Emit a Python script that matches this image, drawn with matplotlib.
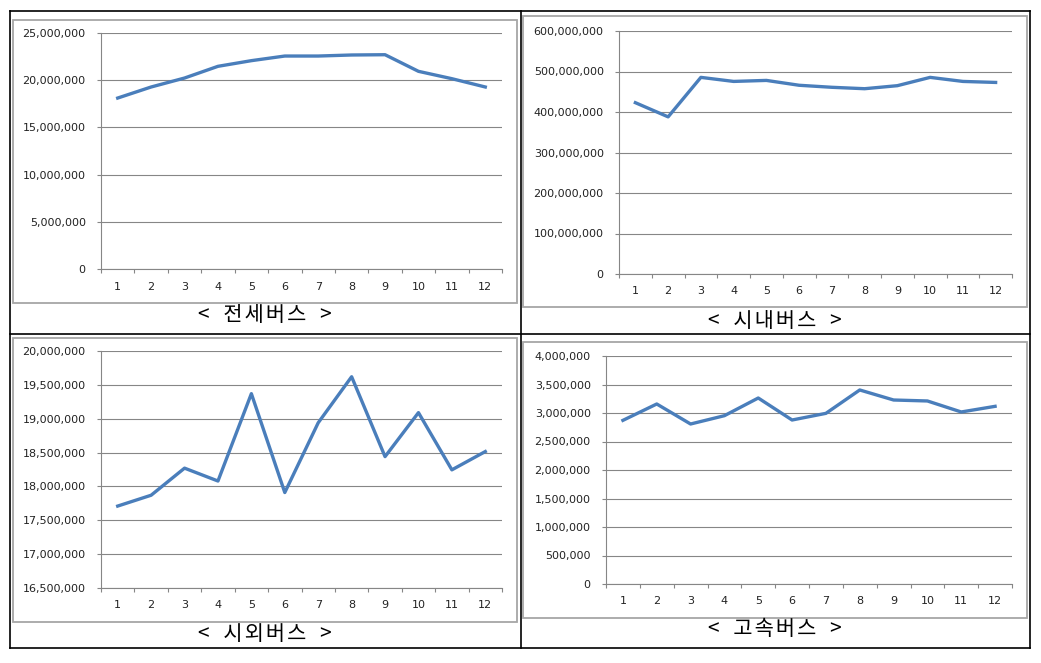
import numpy as np
import matplotlib
matplotlib.use("Agg")
import matplotlib.pyplot as plt
from matplotlib.lines import Line2D
from matplotlib.patches import Rectangle
from matplotlib.ticker import FuncFormatter

# -----------------------------
# Data (monthly passengers)
# -----------------------------
months = list(range(1, 13))

charter_bus = [18.11e6, 19.28e6, 20.23e6, 21.47e6, 22.07e6, 22.56e6,
               22.56e6, 22.67e6, 22.70e6, 20.94e6, 20.16e6, 19.28e6]
city_bus = [423e6, 388e6, 485.5e6, 475.5e6, 478e6, 466e6,
            461e6, 457.5e6, 465e6, 485.5e6, 475.5e6, 473e6]
intercity_bus = [17.71e6, 17.87e6, 18.27e6, 18.08e6, 19.37e6, 17.91e6,
                 18.94e6, 19.62e6, 18.44e6, 19.09e6, 18.245e6, 18.515e6]
express_bus = [2.871e6, 3.158e6, 2.807e6, 2.953e6, 3.263e6, 2.877e6,
               2.994e6, 3.404e6, 3.228e6, 3.211e6, 3.018e6, 3.117e6]

names = ["전세버스", "시내버스", "시외버스", "고속버스"]
y_ranges = [(0, 25e6, 5e6), (0, 600e6, 100e6), (16.5e6, 20e6, 0.5e6), (0, 4e6, 0.5e6)]

W, H = 1041, 663
fig = plt.figure(figsize=(W / 100, H / 100), dpi=100)
fig.patch.set_facecolor("white")


def fbox(x0, y0, x1, y1):
    # pixel box (top-left origin) -> figure fraction [l, b, w, h]
    return [x0 / W, 1 - y1 / H, (x1 - x0) / W, (y1 - y0) / H]


def caption(name):
    # slight letter spacing like the original document
    hair = "\u200a"
    return "<   " + hair.join(name) + "   >"


# -----------------------------
# Layout in pixels
# -----------------------------
plot_boxes = [(101, 33, 502, 269), (619, 31, 1012, 274),
              (101, 351, 502, 588), (606, 356, 1012, 584)]
frame_boxes = [(13, 20, 517, 303), (523, 16, 1027, 307),
               (13, 338, 517, 622), (523, 342, 1027, 618)]
caption_pos = [(265, 315), (775, 321), (265, 634), (775, 629)]

series = [charter_bus, city_bus, intercity_bus, express_bus]
grid_col = "#868686"
line_col = "#4A7EBB"

for i, vals in enumerate(series):
    # chart frame
    l, b, w, h = fbox(*frame_boxes[i])
    fig.patches.append(Rectangle((l, b), w, h, transform=fig.transFigure,
                                 fill=False, edgecolor="#a6a6a6", linewidth=1.3))

    ax = fig.add_axes(fbox(*plot_boxes[i]))
    ax.plot(months, vals, color=line_col, linewidth=2.4, solid_joinstyle="round")

    lo, hi, step = y_ranges[i]
    ax.set_ylim(lo, hi)
    ax.set_yticks(np.arange(lo, hi + step / 2, step))
    ax.yaxis.set_major_formatter(FuncFormatter(lambda v, p: f"{int(round(v)):,}"))
    ax.grid(axis="y", color=grid_col, linewidth=0.8)
    ax.set_axisbelow(True)

    ax.set_xlim(0.5, 12.5)
    ax.set_xticks(np.arange(0.5, 13, 1))
    ax.set_xticklabels([])
    ax.set_xticks(months, minor=True)
    ax.set_xticklabels([str(m) for m in months], minor=True)

    for s in ["top", "right"]:
        ax.spines[s].set_visible(False)
    for s in ["left", "bottom"]:
        ax.spines[s].set_color(grid_col)
        ax.spines[s].set_linewidth(0.8)

    ax.tick_params(axis="y", which="major", length=3, width=0.8, color=grid_col,
                   pad=8, labelsize=8, labelcolor="#222222")
    ax.tick_params(axis="x", which="major", length=3, width=0.8, color=grid_col)
    ax.tick_params(axis="x", which="minor", length=0, pad=9, labelsize=8,
                   labelcolor="#222222")

    cx, cy = caption_pos[i]
    fig.text(cx / W, 1 - cy / H, caption(names[i]), ha="center", va="center",
             fontsize=15, family=["Noto Sans CJK KR", "DejaVu Sans"])

# -----------------------------
# Table border lines
# -----------------------------
xs = [10, 520.5, 1030]
ys = [11, 334, 648]
for x in xs:
    fig.add_artist(Line2D([x / W, x / W], [1 - ys[0] / H, 1 - ys[-1] / H],
                          color="black", linewidth=1.2, transform=fig.transFigure))
for y in ys:
    fig.add_artist(Line2D([xs[0] / W, xs[-1] / W], [1 - y / H, 1 - y / H],
                          color="black", linewidth=1.2, transform=fig.transFigure))

fig.savefig("out.png", dpi=100)
